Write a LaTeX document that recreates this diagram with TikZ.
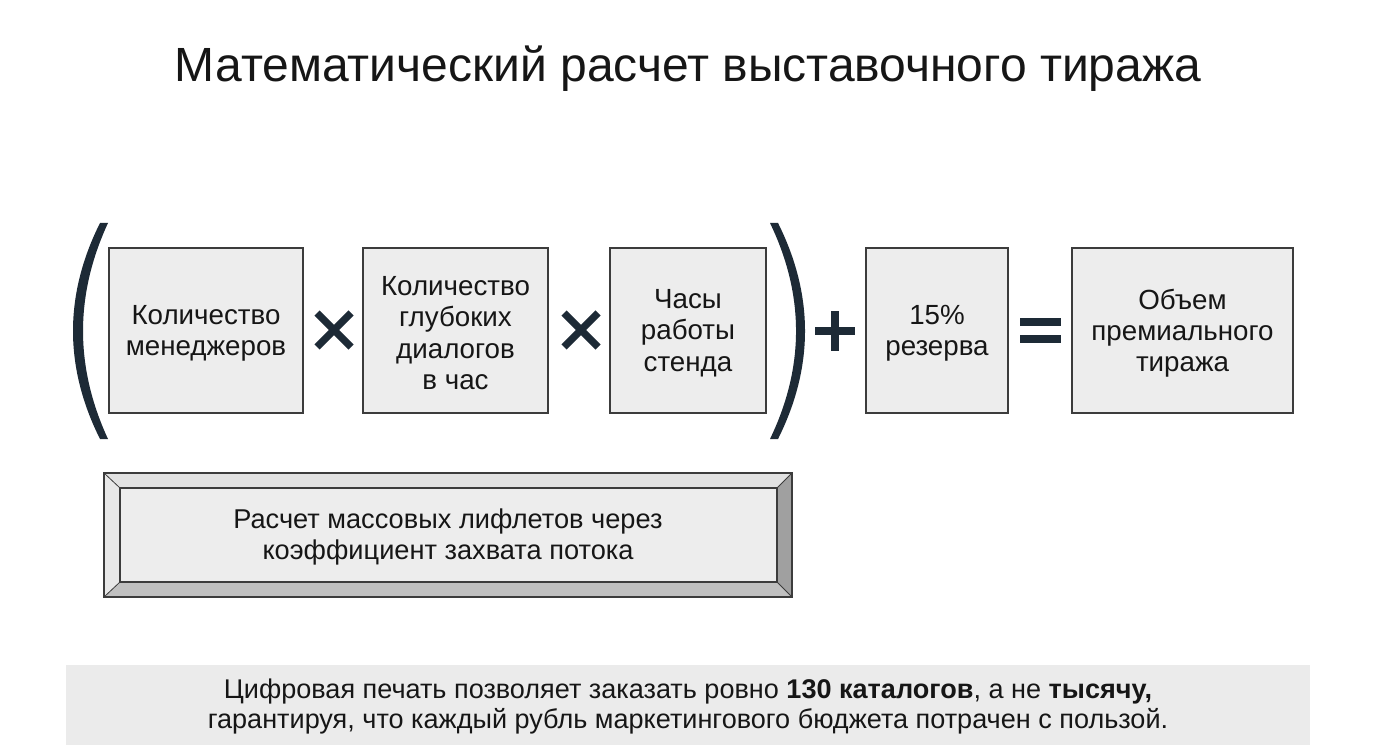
\documentclass[tikz,border=0pt]{standalone}
\usepackage{fontspec}
\setmainfont{Liberation Sans}
\definecolor{navy}{HTML}{1D2A36}
\definecolor{boxfill}{HTML}{EDEDED}
\definecolor{boxline}{HTML}{3C3C3C}
\definecolor{txt}{HTML}{161616}
\definecolor{band}{HTML}{EBEBEB}
\definecolor{bevtop}{HTML}{E2E2E2}
\definecolor{bevleft}{HTML}{E8E8E8}
\definecolor{bevright}{HTML}{A0A0A0}
\definecolor{bevbot}{HTML}{C0C0C0}
\begin{document}
\begin{tikzpicture}[x=0.75pt,y=-0.75pt,
  box/.style={draw=boxline, line width=1.2pt, fill=boxfill, inner sep=0pt, minimum height=123.75pt},
  boxtext/.style={align=center, text=txt, font=\fontsize{20.8}{23.5}\selectfont, inner sep=0pt},
  opline/.style={draw=navy, line width=5.5pt},
]
\useasboundingbox (0,0) rectangle (1376,745);
\fill[white] (0,0) rectangle (1376,745);

% title
\node[anchor=base, text=txt, font=\fontsize{36}{42}\selectfont] (title) at (688,82) {Математический расчет выставочного тиража};

% boxes
\node[box, minimum width=145.5pt] (b1) at (206,330.5) {};
\node[box, minimum width=138.75pt] (b2) at (455.5,330.5) {};
\node[box, minimum width=117pt] (b3) at (688,330.5) {};
\node[box, minimum width=106.5pt] (b4) at (937,330.5) {};
\node[box, minimum width=165.75pt] (b5) at (1182.5,330.5) {};
\node[boxtext] (t1) at ([yshift=-2pt]b1.center) {Количество\\менеджеров};
\node[boxtext] (t2) at ([yshift=-2pt]b2.center) {Количество\\глубоких\\диалогов\\в час};
\node[boxtext] (t3) at ([yshift=-2pt]b3.center) {Часы\\работы\\стенда};
\node[boxtext] (t4) at ([yshift=-2pt]b4.center) {15\%\\резерва};
\node[boxtext] (t5) at ([yshift=-2pt]b5.center) {Объем\\премиального\\тиража};

% parentheses
\fill[navy] (100,223) .. controls (64,295) and (64,367) .. (100,439)
  -- (108,439) .. controls (74.7,367) and (74.7,295) .. (108,223) -- cycle;
\fill[navy] (778,223) .. controls (814,295) and (814,367) .. (778,439)
  -- (770,439) .. controls (804.7,367) and (804.7,295) .. (770,223) -- cycle;

% operators
\draw[opline] (317,313) -- (351,347) (317,347) -- (351,313);
\draw[opline] (564,313) -- (598,347) (564,347) -- (598,313);
\draw[opline] (815,331) -- (855,331) (835,311) -- (835,351);
\draw[opline] (1020,322) -- (1061,322) (1020,339) -- (1061,339);

% bevel box
\fill[bevtop] (104,473) -- (792,473) -- (777,488) -- (120,488) -- cycle;
\fill[bevleft] (104,473) -- (120,488) -- (120,582) -- (104,597) -- cycle;
\fill[bevright] (792,473) -- (792,597) -- (777,582) -- (777,488) -- cycle;
\fill[bevbot] (104,597) -- (120,582) -- (777,582) -- (792,597) -- cycle;
\fill[boxfill] (120,488) rectangle (777,582);
\draw[boxline, line width=0.9pt] (104,473) rectangle (792,597);
\draw[boxline, line width=0.9pt] (120,488) rectangle (777,582);
\draw[boxline, line width=0.6pt] (104,473) -- (120,488) (792,473) -- (777,488)
  (104,597) -- (120,582) (792,597) -- (777,582);
\node[align=center, text=txt, font=\fontsize{20.4}{23}\selectfont] (lift) at (448,537)
  {Расчет массовых лифлетов через\\коэффициент захвата потока};

% bottom band
\fill[band] (66,665) rectangle (1310,745);
\node[align=center, text=txt, font=\fontsize{20.3}{22.5}\selectfont] (note) at (688,706)
  {Цифровая печать позволяет заказать ровно \textbf{130 каталогов}, а не \textbf{тысячу,}\\
   гарантируя, что каждый рубль маркетингового бюджета потрачен с пользой.};
\end{tikzpicture}
\end{document}
